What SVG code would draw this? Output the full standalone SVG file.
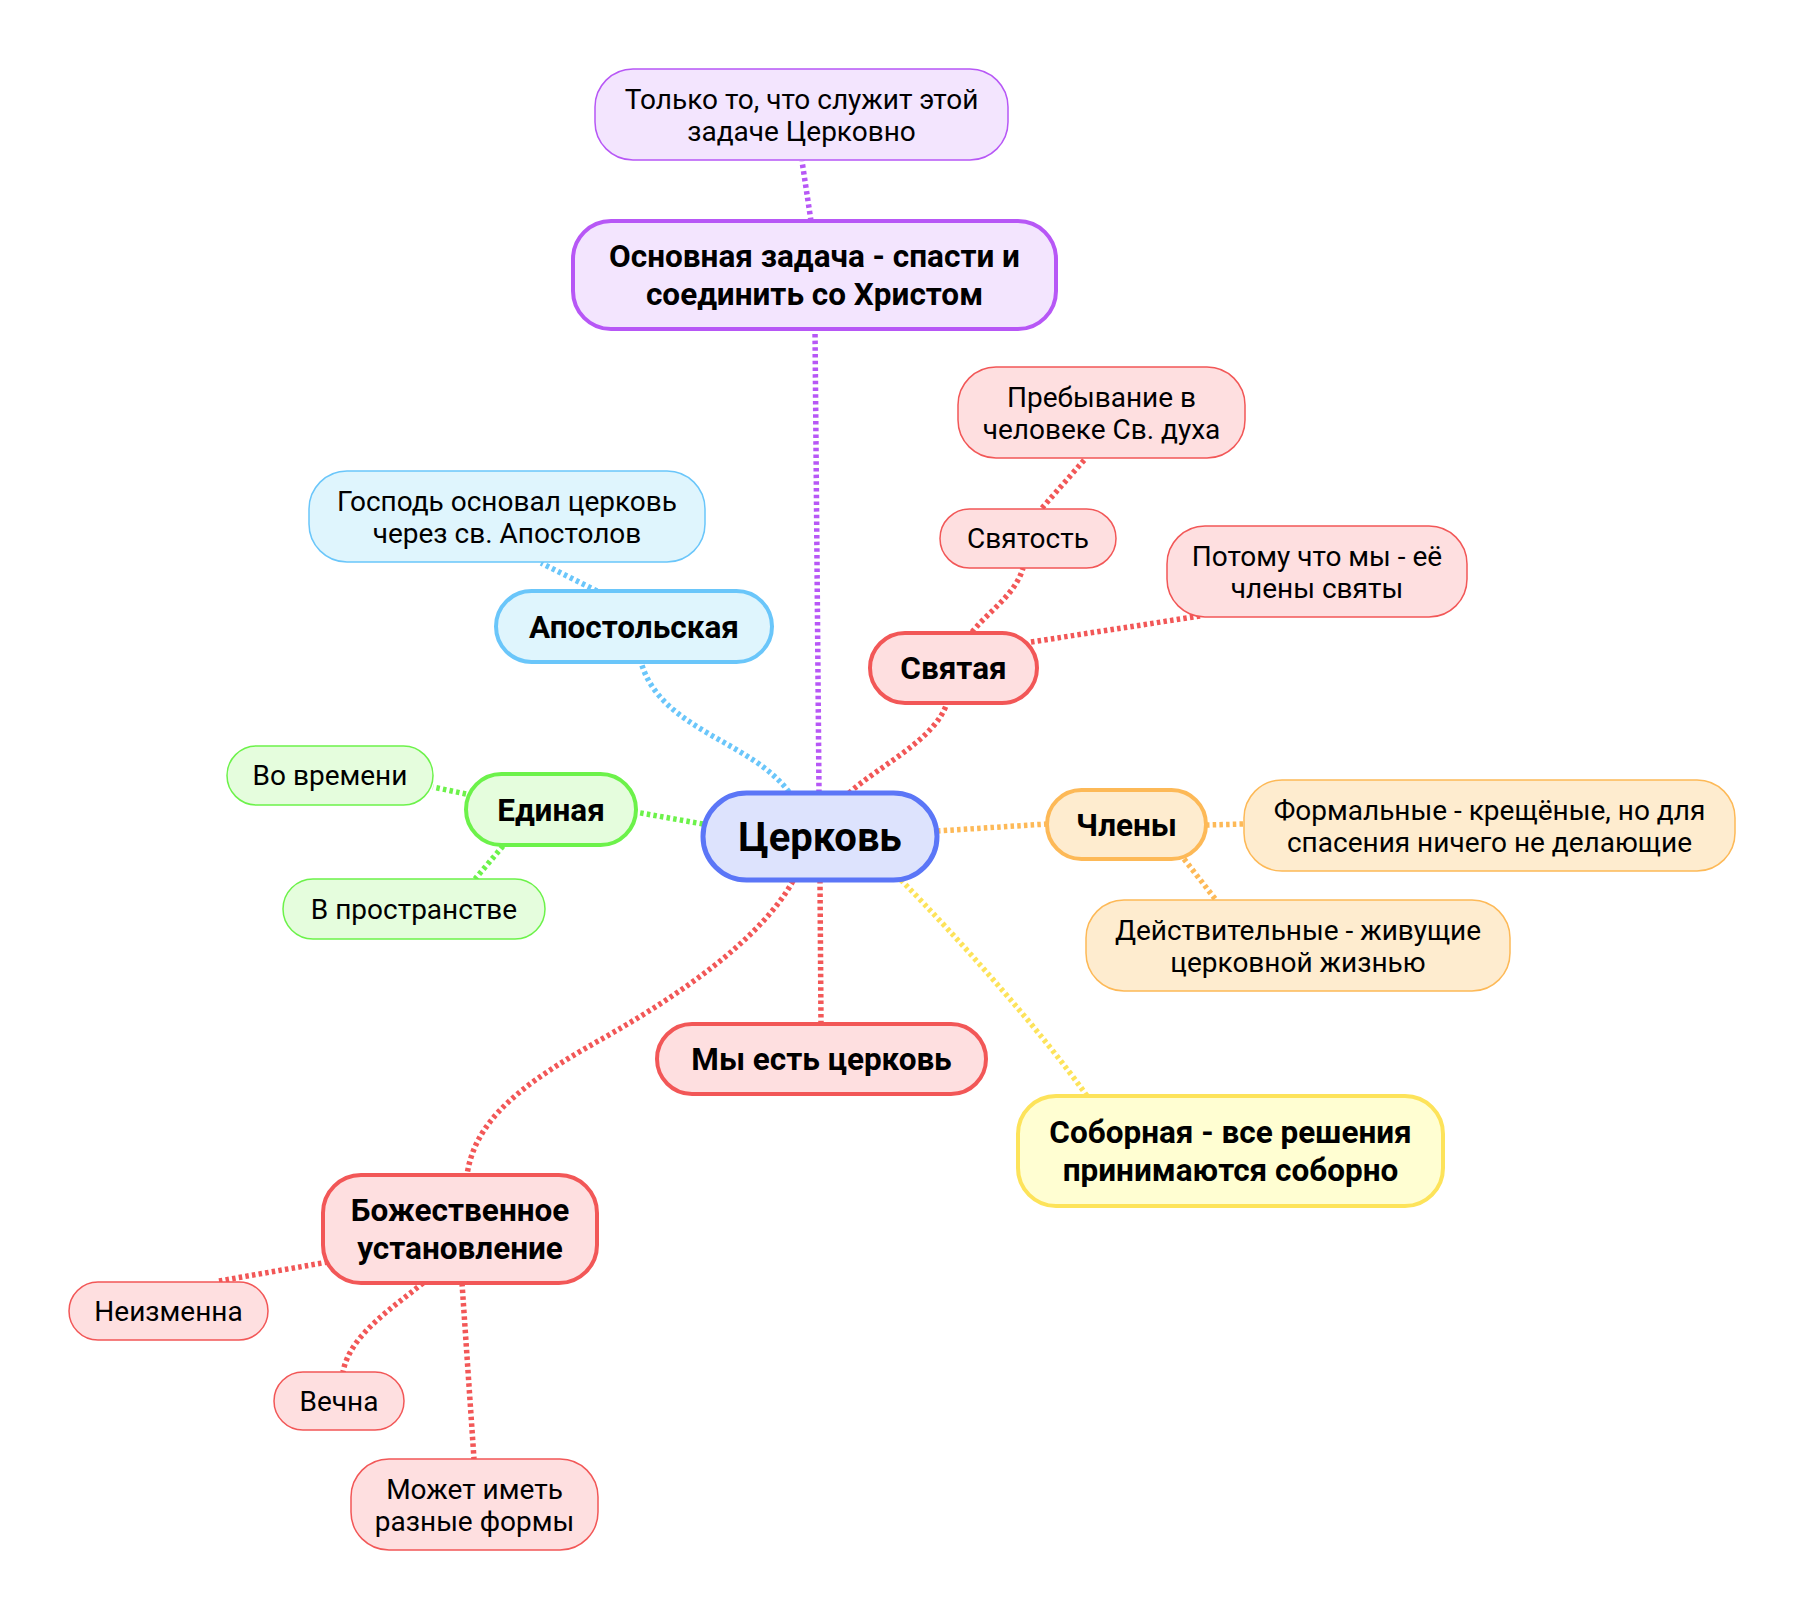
<svg xmlns="http://www.w3.org/2000/svg" width="1804" height="1620" viewBox="0 0 1804 1620">
<style>
text{font-family:Roboto,"Noto Sans","Liberation Sans",sans-serif;fill:#000;text-anchor:middle}
.t{font-size:28px}
.b{font-size:31.5px;font-weight:bold}
.c{font-size:40px;font-weight:bold}
.lf{stroke-width:1.5}
.mn{stroke-width:4}
.pu{stroke:#b757f6;fill:#f3e5fe}
.bl{stroke:#6ac6fa;fill:#dff5fd}
.rd{stroke:#f25757;fill:#fedfe0}
.gr{stroke:#6cf24a;fill:#e5fddd}
.or{stroke:#fdb957;fill:#feeccf}
.ye{stroke:#fde35a;fill:#fffed2}
.ce{stroke:#5b76f7;fill:#dde3fd;stroke-width:5}
.k{fill:none;stroke-width:5.5;stroke-dasharray:3.5 3.2}
</style>
<rect width="1804" height="1620" fill="#fff"/>
<g id="connectors">
<path class="k" stroke="#b757f6" d="M819 793 L815 329"/>
<path class="k" stroke="#b757f6" d="M811 221 L802 161"/>
<path class="k" stroke="#6ac6fa" d="M789 792 C750 740 660 730 641 662"/>
<path class="k" stroke="#6ac6fa" d="M597 591 L541 563"/>
<path class="k" stroke="#f25757" d="M849 793 C880 765 935 740 947 703"/>
<path class="k" stroke="#f25757" d="M972 632 C990 610 1015 595 1023 568"/>
<path class="k" stroke="#f25757" d="M1042 508 L1086 458"/>
<path class="k" stroke="#f25757" d="M1031 642 L1200 616"/>
<path class="k" stroke="#6cf24a" d="M703 824 L635 812"/>
<path class="k" stroke="#6cf24a" d="M466 794 L433 787"/>
<path class="k" stroke="#6cf24a" d="M503 846 L475 879"/>
<path class="k" stroke="#fdb957" d="M937 831 L1047 824"/>
<path class="k" stroke="#fdb957" d="M1206 825 L1244 824"/>
<path class="k" stroke="#fdb957" d="M1184 859 L1216 900"/>
<path class="k" stroke="#f25757" d="M820 880 L821 1024"/>
<path class="k" stroke="#fde35a" d="M901 880 C960 940 1040 1030 1087 1096"/>
<path class="k" stroke="#f25757" d="M793 881 C760 940 680 995 600 1040 C520 1085 475 1120 467 1175"/>
<path class="k" stroke="#f25757" d="M328 1262 L219 1281"/>
<path class="k" stroke="#f25757" d="M423 1283 C390 1310 350 1335 343 1372"/>
<path class="k" stroke="#f25757" d="M462 1283 L474 1459"/>
</g>
<g id="n-top-leaf"><rect class="pu lf" x="595" y="69" width="413" height="91" rx="38"/><text class="t" x="801.5" y="108.5">Только то, что служит этой</text><text class="t" x="801.5" y="140.5">задаче Церковно</text></g>
<g id="n-main-task"><rect class="pu mn" x="573" y="221" width="483" height="108" rx="38"/><text class="b" x="814.5" y="267">Основная задача - спасти и</text><text class="b" x="814.5" y="305">соединить со Христом</text></g>
<g id="n-prebyv"><rect class="rd lf" x="958" y="367" width="287" height="91" rx="38"/><text class="t" x="1101.5" y="406.5">Пребывание в</text><text class="t" x="1101.5" y="438.5">человеке Св. духа</text></g>
<g id="n-gospod"><rect class="bl lf" x="309" y="471" width="396" height="91" rx="38"/><text class="t" x="507" y="510.5">Господь основал церковь</text><text class="t" x="507" y="542.5">через св. Апостолов</text></g>
<g id="n-svyatost"><rect class="rd lf" x="940" y="509" width="176" height="59" rx="29.5"/><text class="t" x="1028" y="548">Святость</text></g>
<g id="n-potomu"><rect class="rd lf" x="1167" y="526" width="300" height="91" rx="38"/><text class="t" x="1317" y="565.5">Потому что мы - её</text><text class="t" x="1317" y="597.5">члены святы</text></g>
<g id="n-apost"><rect class="bl mn" x="496" y="591" width="276" height="71" rx="35.5"/><text class="b" x="634" y="637.5">Апостольская</text></g>
<g id="n-svyataya"><rect class="rd mn" x="870" y="633" width="167" height="70" rx="35"/><text class="b" x="953.5" y="679">Святая</text></g>
<g id="n-vo-vremeni"><rect class="gr lf" x="227" y="746" width="206" height="59" rx="29.5"/><text class="t" x="330" y="785">Во времени</text></g>
<g id="n-edinaya"><rect class="gr mn" x="466" y="774" width="170" height="71" rx="35.5"/><text class="b" x="551" y="820.5">Единая</text></g>
<g id="n-center"><rect class="ce" x="703" y="793" width="234" height="87" rx="43.5"/><text class="c" x="820" y="850.5">Церковь</text></g>
<g id="n-chleny"><rect class="or mn" x="1047" y="790" width="159" height="69" rx="34.5"/><text class="b" x="1126.5" y="835.5">Члены</text></g>
<g id="n-formal"><rect class="or lf" x="1244" y="780" width="491" height="91" rx="38"/><text class="t" x="1489.5" y="819.5">Формальные - крещёные, но для</text><text class="t" x="1489.5" y="851.5">спасения ничего не делающие</text></g>
<g id="n-v-prostr"><rect class="gr lf" x="283" y="879" width="262" height="60" rx="30"/><text class="t" x="414" y="918.5">В пространстве</text></g>
<g id="n-deistv"><rect class="or lf" x="1086" y="900" width="424" height="91" rx="38"/><text class="t" x="1298" y="939.5">Действительные - живущие</text><text class="t" x="1298" y="971.5">церковной жизнью</text></g>
<g id="n-my-est"><rect class="rd mn" x="657" y="1024" width="329" height="70" rx="35"/><text class="b" x="821.5" y="1070">Мы есть церковь</text></g>
<g id="n-sobornaya"><rect class="ye mn" x="1018" y="1096" width="425" height="110" rx="38"/><text class="b" x="1230.5" y="1143">Соборная - все решения</text><text class="b" x="1230.5" y="1181">принимаются соборно</text></g>
<g id="n-bozh"><rect class="rd mn" x="323" y="1175" width="274" height="108" rx="38"/><text class="b" x="460" y="1221">Божественное</text><text class="b" x="460" y="1259">установление</text></g>
<g id="n-neizm"><rect class="rd lf" x="69" y="1282" width="199" height="58" rx="29"/><text class="t" x="168.5" y="1320.5">Неизменна</text></g>
<g id="n-vechna"><rect class="rd lf" x="274" y="1372" width="130" height="58" rx="29"/><text class="t" x="339" y="1410.5">Вечна</text></g>
<g id="n-mozhet"><rect class="rd lf" x="351" y="1459" width="247" height="91" rx="38"/><text class="t" x="474.5" y="1498.5">Может иметь</text><text class="t" x="474.5" y="1530.5">разные формы</text></g>
</svg>
